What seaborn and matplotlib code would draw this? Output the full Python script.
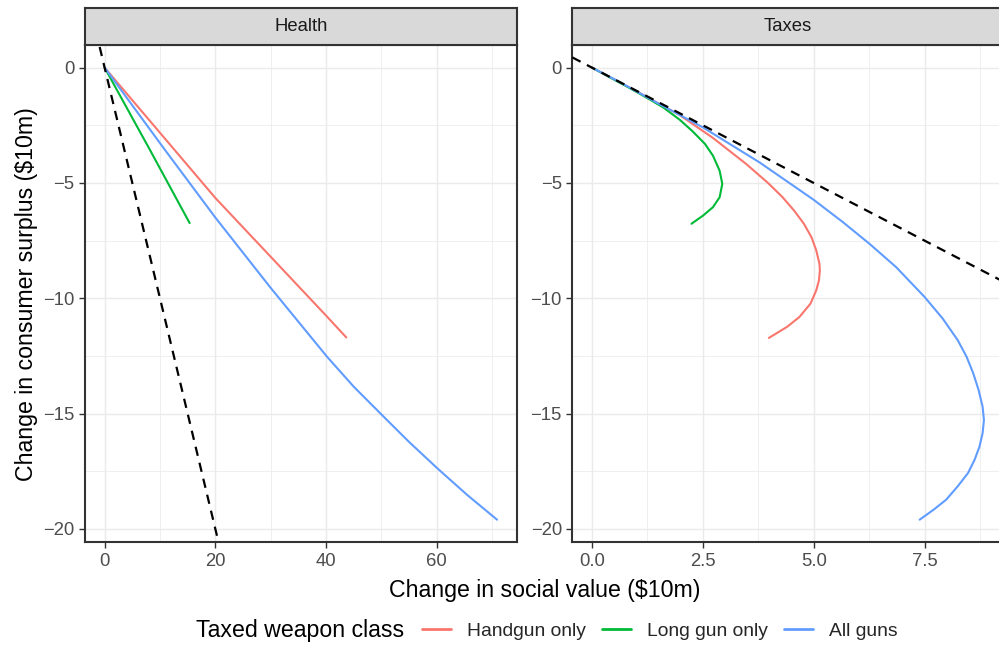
import numpy as np
import pandas as pd
import matplotlib
matplotlib.use("Agg")
import matplotlib.pyplot as plt
import seaborn as sns
from matplotlib.lines import Line2D
from matplotlib.ticker import MultipleLocator

# ---------------- data ----------------
panels = ["Health", "Taxes"]
classes = ["Handgun only", "Long gun only", "All guns"]
colors = ["#F8766D", "#00BA38", "#619CFF"]

health_handgun_x = [0, 20, 30, 40, 43.67]
health_handgun_y = [0, -5.65, -8.2, -10.75, -11.70]
health_longgun_x = [0, 8.26, 15.36]
health_longgun_y = [0, -3.60, -6.74]
health_all_x = [0, 11, 20, 30, 40.2, 44.99, 50.1, 54.92, 60.05, 65.47, 70.9]
health_all_y = [0, -3.6, -6.5, -9.55, -12.54, -13.83, -15.06, -16.21, -17.36, -18.52, -19.6]

taxes_handgun_x = [0, 1.0, 1.98, 2.73, 3.48, 3.97, 4.29, 4.56, 4.78, 4.95, 5.06, 5.13, 5.14,
                   5.12, 5.06, 4.93, 4.68, 4.40, 3.99]
taxes_handgun_y = [0, -1.02, -2.06, -3.05, -4.18, -5.0, -5.6, -6.20, -6.77, -7.35, -7.93, -8.50,
                   -8.79, -9.22, -9.65, -10.23, -10.81, -11.24, -11.72]
taxes_longgun_x = [0, 0.48, 0.855, 1.23, 1.61, 1.98, 2.28, 2.55, 2.73, 2.88, 2.94, 2.88, 2.73,
                   2.51, 2.245]
taxes_longgun_y = [0, -0.50, -0.89, -1.30, -1.73, -2.26, -2.78, -3.31, -3.82, -4.47, -5.04, -5.62,
                   -6.05, -6.41, -6.77]
taxes_all_x = [0, 0.6, 1.53, 2.51, 3.78, 5.0, 5.66, 6.26, 6.86, 7.5, 7.91, 8.25, 8.45, 8.60,
               8.72, 8.81, 8.84, 8.81, 8.74, 8.63, 8.48, 8.25, 7.99, 7.71, 7.39]
taxes_all_y = [0, -0.6, -1.59, -2.6, -4.11, -5.73, -6.70, -7.64, -8.65, -9.94, -10.88, -11.82,
               -12.54, -13.26, -13.98, -14.70, -15.28, -15.85, -16.43, -17.0, -17.58, -18.15,
               -18.73, -19.16, -19.6]

x_ticks_health = [0, 20, 40, 60]
x_ticks_taxes = [0.0, 2.5, 5.0, 7.5]
y_ticks = [0, -5, -10, -15, -20]

series = {
    ("Health", "Handgun only"): (health_handgun_x, health_handgun_y),
    ("Health", "Long gun only"): (health_longgun_x, health_longgun_y),
    ("Health", "All guns"): (health_all_x, health_all_y),
    ("Taxes", "Handgun only"): (taxes_handgun_x, taxes_handgun_y),
    ("Taxes", "Long gun only"): (taxes_longgun_x, taxes_longgun_y),
    ("Taxes", "All guns"): (taxes_all_x, taxes_all_y),
}
rows = []
for (p, c), (xs, ys) in series.items():
    for i, (xv, yv) in enumerate(zip(xs, ys)):
        rows.append({"panel": p, "cls": c, "order": i, "x": xv, "y": yv})
df = pd.DataFrame(rows)

# ---------------- style ----------------
sns.set_style("white")
plt.rcParams["font.family"] = ["Liberation Sans", "DejaVu Sans"]

W, H = 999, 647
fig = plt.figure(figsize=(W / 100, H / 100), dpi=100)


def frac(l, t, r, b):
    return [l / W, 1 - b / H, (r - l) / W, (b - t) / H]


ax_h = fig.add_axes(frac(85, 45, 516.7, 542.3))
ax_t = fig.add_axes(frac(572.3, 45, 1004, 542.3))
axes = {"Health": ax_h, "Taxes": ax_t}

xlims = {"Health": (-3.545, 74.445), "Taxes": (-0.4425, 9.2925)}
xmaj = {"Health": 20, "Taxes": 2.5}
xtick_lists = {"Health": x_ticks_health, "Taxes": x_ticks_taxes}
ylim = (-20.58, 0.98)

palette = dict(zip(classes, colors))

for p in panels:
    ax = axes[p]
    sub = df[df.panel == p].sort_values(["cls", "order"])
    x0, x1 = xlims[p]
    # reference line y = -x spanning the panel's x scale (like geom_abline)
    ax.plot([x0, x1], [-x0, -x1], color="black", lw=1.6, dashes=(4.2, 3.2), zorder=4,
            solid_capstyle="butt", dash_capstyle="butt")
    sns.lineplot(data=sub, x="x", y="y", hue="cls", hue_order=classes, palette=palette,
                 sort=False, estimator=None, units="cls", lw=1.5, ax=ax, legend=False,
                 zorder=3)
    ax.set_xlim(x0, x1)
    ax.set_ylim(*ylim)
    ax.set_xticks(xtick_lists[p])
    ax.xaxis.set_minor_locator(MultipleLocator(xmaj[p] / 2))
    ax.set_yticks(y_ticks)
    ax.yaxis.set_minor_locator(MultipleLocator(2.5))
    if p == "Taxes":
        ax.set_xticklabels(["0.0", "2.5", "5.0", "7.5"])
    else:
        ax.set_xticklabels([str(v) for v in x_ticks_health])
    ax.set_yticklabels(["0", "\u22125", "\u221210", "\u221215", "\u221220"])
    ax.grid(which="major", color="#EBEBEB", lw=1.05, zorder=0)
    ax.grid(which="minor", color="#EBEBEB", lw=0.55, zorder=0)
    ax.set_axisbelow(True)
    ax.tick_params(which="major", length=4.2, width=1.0, color="#333333",
                   labelsize=13.3, labelcolor="#4D4D4D", pad=3.3,
                   bottom=True, left=True)
    ax.tick_params(which="minor", length=0)
    for s in ax.spines.values():
        s.set_color("#333333")
        s.set_linewidth(1.5)
    ax.set_xlabel("")
    ax.set_ylabel("")
    ax.set_facecolor("white")

# strips
for p, (l, r) in zip(panels, [(85, 516.7), (572.3, 1004)]):
    s = fig.add_axes(frac(l, 7.5, r, 45))
    s.set_facecolor("#D9D9D9")
    s.set_xticks([])
    s.set_yticks([])
    for sp in s.spines.values():
        sp.set_color("#333333")
        sp.set_linewidth(1.5)
    s.text(0.5, 0.5, p, ha="center", va="center", fontsize=13.3, color="#1A1A1A",
           transform=s.transAxes)

# axis titles
fig.text(544.5 / W, 1 - 590 / H, "Change in social value ($10m)", ha="center", va="center",
         fontsize=16.7, color="black")
fig.text(27 / W, 1 - 293.7 / H, "Change in consumer surplus ($10m)", ha="center",
         va="center", rotation=90, fontsize=16.7, color="black")

# legend
fig.text(196 / W, 1 - 631 / H, "Taxed weapon class", ha="left", va="center",
         fontsize=16.7, color="black")
handles = [Line2D([], [], color=c, lw=2.0) for c in colors]
fig.legend(handles, classes, loc="center left", bbox_to_anchor=(422 / W, 1 - 631 / H),
           ncol=3, frameon=False, fontsize=13.9, handlelength=1.5, handletextpad=0.83,
           columnspacing=0.83, borderaxespad=0, borderpad=0)

fig.savefig("out.png", dpi=100)
